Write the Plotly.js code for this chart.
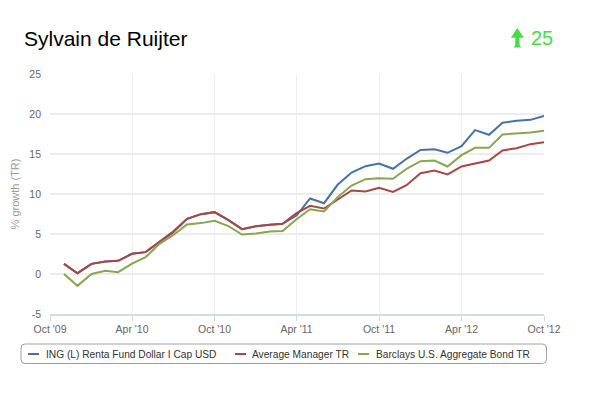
<!DOCTYPE html>
<html>
<head>
<meta charset="utf-8">
<script src="https://cdn.plot.ly/plotly-3.0.1.min.js"></script>
<style>html,body{margin:0;padding:0;background:#fff;}#chart{width:600px;height:393px;}</style>
</head>
<body>
<div id="chart"></div>
<script>
// ---- data ----
var months = ["2009-11-01","2009-12-01","2010-01-01","2010-02-01","2010-03-01","2010-04-01","2010-05-01","2010-06-01","2010-07-01","2010-08-01","2010-09-01","2010-10-01","2010-11-01","2010-12-01","2011-01-01","2011-02-01","2011-03-01","2011-04-01","2011-05-01","2011-06-01","2011-07-01","2011-08-01","2011-09-01","2011-10-01","2011-11-01","2011-12-01","2012-01-01","2012-02-01","2012-03-01","2012-04-01","2012-05-01","2012-06-01","2012-07-01","2012-08-01","2012-09-01","2012-10-01"];
var fundValues = [1.27,0.1,1.27,1.56,1.65,2.52,2.73,4.0,5.3,6.9,7.48,7.73,6.73,5.6,5.98,6.15,6.27,7.3,9.44,8.85,11.15,12.69,13.48,13.81,13.15,14.4,15.5,15.6,15.15,15.98,17.98,17.4,18.9,19.15,19.27,19.77];
var managerValues = [1.27,0.1,1.27,1.56,1.65,2.52,2.73,4.0,5.2,6.9,7.48,7.73,6.73,5.6,5.98,6.15,6.27,7.6,8.52,8.19,9.31,10.44,10.31,10.77,10.27,11.1,12.6,12.94,12.44,13.44,13.81,14.19,15.44,15.73,16.23,16.48];
var benchValues = [0.0,-1.48,0.0,0.4,0.23,1.3,2.1,3.77,4.85,6.19,6.36,6.65,5.98,4.94,5.06,5.31,5.36,6.85,8.1,7.81,9.6,11.06,11.85,11.98,11.9,13.15,14.1,14.19,13.44,14.85,15.77,15.77,17.44,17.52,17.69,17.9];
var seriesNames = ["ING (L) Renta Fund Dollar I Cap USD","Average Manager TR","Barclays U.S. Aggregate Bond TR"];
var seriesColors = ["#4572A7","#AA4643","#89A54E"];
var xTickVals = ["2009-10-01","2010-04-01","2010-10-01","2011-04-01","2011-10-01","2012-04-01","2012-10-01"];
var xTickText = ["Oct '09","Apr '10","Oct '10","Apr '11","Oct '11","Apr '12","Oct '12"];
var yTickVals = [-5,0,5,10,15,20,25];
var yTickText = ["-5","0","5","10","15","20","25"];
var chartTitle = "Sylvain de Ruijter";
var scoreText = "25";

// ---- layout helpers (pixel -> paper) ----
var W = 600, H = 393, L = 50, R = 544, T = 74, B = 314;
function px(x){ return (x - L) / (R - L); }
function py(y){ return (B - y) / (B - T); }
var FONT = 'Arial, "Liberation Sans", sans-serif';

var allValues = [fundValues, managerValues, benchValues];
var traces = allValues.map(function(v, i){
  return {x: months, y: v, type: 'scatter', mode: 'lines', name: seriesNames[i],
          line: {color: seriesColors[i], width: 2}, showlegend: false, hoverinfo: 'x+y'};
});

// legend (drawn as shapes + annotations)
var legTop = 344, legBot = 363.5, legLeft = 21, legRight = 546.5, legY = 354;
var legItems = [{l: 28, t: 45}, {l: 235, t: 251}, {l: 358, t: 375}];
function roundRect(x0, y0, x1, y1, r){
  var p = [];
  p.push('M ' + px(x0 + r) + ' ' + py(y0));
  p.push('L ' + px(x1 - r) + ' ' + py(y0));
  p.push('Q ' + px(x1) + ' ' + py(y0) + ' ' + px(x1) + ' ' + py(y0 + r));
  p.push('L ' + px(x1) + ' ' + py(y1 - r));
  p.push('Q ' + px(x1) + ' ' + py(y1) + ' ' + px(x1 - r) + ' ' + py(y1));
  p.push('L ' + px(x0 + r) + ' ' + py(y1));
  p.push('Q ' + px(x0) + ' ' + py(y1) + ' ' + px(x0) + ' ' + py(y1 - r));
  p.push('L ' + px(x0) + ' ' + py(y0 + r));
  p.push('Q ' + px(x0) + ' ' + py(y0) + ' ' + px(x0 + r) + ' ' + py(y0));
  p.push('Z');
  return p.join(' ');
}
var shapes = [{type: 'path', xref: 'paper', yref: 'paper', path: roundRect(legLeft, legTop, legRight, legBot, 4),
               line: {color: '#a0a0a0', width: 1}, fillcolor: 'rgba(0,0,0,0)'}];
var annotations = [];
legItems.forEach(function(it, i){
  shapes.push({type: 'line', xref: 'paper', yref: 'paper', x0: px(it.l), x1: px(it.l + 11), y0: py(legY), y1: py(legY),
               line: {color: seriesColors[i], width: 2}});
  annotations.push({xref: 'paper', yref: 'paper', x: px(it.t - 1), y: py(legY), xanchor: 'left', yanchor: 'middle',
                    text: seriesNames[i], showarrow: false, font: {family: FONT, size: 10.2, color: '#333'}});
});

// score arrow + value
var arrowPts = [[517.3,28],[523.8,37.8],[519.4,37.8],[519.6,45],[521.2,47.6],[513.6,47.6],[515.2,45],[515.3,37.8],[510.9,37.8]];
var arrowPath = arrowPts.map(function(p, i){ return (i ? 'L ' : 'M ') + px(p[0]) + ' ' + py(p[1]); }).join(' ') + ' Z';
shapes.push({type: 'path', xref: 'paper', yref: 'paper', path: arrowPath, fillcolor: '#46dc46', line: {width: 0}});
annotations.push({xref: 'paper', yref: 'paper', x: px(529), y: py(38.5), xanchor: 'left', yanchor: 'middle',
                  text: scoreText, showarrow: false, font: {family: FONT, size: 20, color: '#46dc46'}});

var layout = {
  width: W, height: H,
  margin: {l: L, r: W - R, t: T, b: H - B, pad: 0},
  paper_bgcolor: '#fff', plot_bgcolor: '#fff',
  font: {family: FONT, color: '#666', size: 10.5},
  title: {text: chartTitle, xref: 'container', yref: 'container', x: 24/600, xanchor: 'left',
          y: 1 - 39/393, yanchor: 'middle', font: {family: FONT, size: 21, color: '#000'}},
  xaxis: {type: 'date', range: ['2009-10-01', '2012-10-01'], tickvals: xTickVals, ticktext: xTickText,
          showgrid: true, gridcolor: '#eeeeee', gridwidth: 1, zeroline: false,
          showline: true, linecolor: '#d3dae3', linewidth: 1.5, ticks: 'outside', ticklen: 5, tickcolor: '#d3dae3',
          tickfont: {family: FONT, size: 10.5, color: '#666'}, fixedrange: true},
  yaxis: {range: [-5, 25], tickvals: yTickVals, ticktext: yTickText, showgrid: true, gridcolor: '#ececec',
          gridwidth: 1.2, zeroline: false, showline: false, ticks: '', ticklabelstandoff: 8,
          tickfont: {family: FONT, size: 10.5, color: '#666'},
          title: {text: '% growth (TR)', standoff: 7, font: {family: FONT, size: 11, color: '#999'}}, fixedrange: true},
  shapes: shapes,
  annotations: annotations,
  showlegend: false
};

Plotly.newPlot('chart', traces, layout, {displayModeBar: false, staticPlot: true});
</script>
</body>
</html>
